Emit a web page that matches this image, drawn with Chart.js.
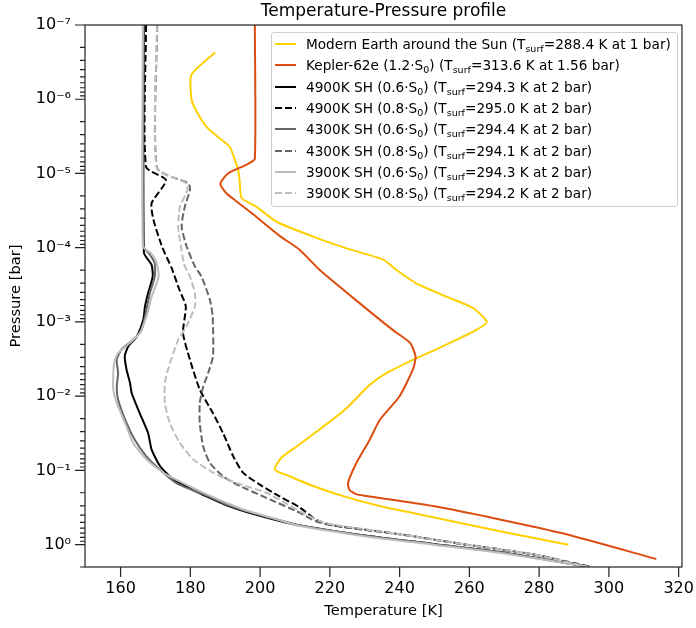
<!DOCTYPE html>
<html>
<head>
<meta charset="utf-8">
<title>Temperature-Pressure profile</title>
<script src="https://cdn.jsdelivr.net/npm/chart.js@4.4.1/dist/chart.umd.min.js"></script>
<style>
  body { margin: 0; background: #fff; }
  #wrap { position: relative; width: 696px; height: 628px; }
  #legend {
    position: absolute; left: 271px; top: 32px; width: 405px; height: 172px;
    border: 1px solid #cfcfcf; border-radius: 3px; background: rgba(255,255,255,0.8);
    font-family: 'DejaVu Sans', sans-serif; font-size: 13.65px; color: #000;
    padding-top: 0.5px; box-sizing: content-box;
  }
  .row { display: flex; align-items: center; height: 21.3px; white-space: nowrap; }
  .row svg { margin-left: 3px; margin-right: 10px; flex: none; }
  .row sub { font-size: 70%; vertical-align: -3px; line-height: 0; }
</style>
</head>
<body>
<div id="wrap">
  <canvas id="tpChart" width="696" height="628"></canvas>
  <div id="legend"></div>
</div>
<script>
// Axis ticks
const xTicks = [160, 180, 200, 220, 240, 260, 280, 300, 320];
const yExponents = [-7, -6, -5, -4, -3, -2, -1, 0];

// Modern Earth around the Sun
const earthT = [187.1, 180.3, 180.3, 181.3, 184.6, 188.5, 191.3, 192.8, 193.7, 194.2, 194.7, 199.0, 204.7, 215.2, 224.8, 235.3, 239.1, 244.8, 253.4, 261.0, 265.0, 261.5, 250.5, 243.8, 236.2, 231.4, 224.8, 218.1, 210.4, 206.1, 204.2, 208.5, 215.2, 224.8, 234.3, 249.6, 268.7, 288.4];
const earthP = [2.34e-7, 4.68e-7, 9.8e-7, 1.32e-6, 2.34e-6, 3.39e-6, 4.37e-6, 6.61e-6, 8.91e-6, 1.35e-5, 2.14e-5, 2.82e-5, 4.47e-5, 7.08e-5, 1.02e-4, 1.45e-4, 2.0e-4, 3.02e-4, 4.57e-4, 6.46e-4, 1.0e-3, 1.32e-3, 2.34e-3, 3.24e-3, 4.9e-3, 7.08e-3, 0.0145, 0.0257, 0.0479, 0.0676, 0.0977, 0.120, 0.162, 0.229, 0.302, 0.427, 0.661, 1.0];

// Kepler-62e
const keplerT = [198.5, 198.5, 196.6, 191.5, 189.9, 188.6, 190.4, 192.8, 198.0, 205.6, 211.4, 217.1, 228.6, 238.1, 243.0, 244.6, 243.8, 240.0, 234.3, 231.4, 227.6, 225.2, 225.6, 227.5, 230.5, 249.6, 268.7, 287.8, 313.6];
const keplerP = [1e-7, 6.31e-6, 7.41e-6, 9.55e-6, 1.1e-5, 1.38e-5, 1.86e-5, 2.29e-5, 3.55e-5, 6.92e-5, 1.07e-4, 2.0e-4, 5.62e-4, 1.29e-3, 1.91e-3, 2.95e-3, 4.37e-3, 0.01, 0.0209, 0.0389, 0.0794, 0.148, 0.182, 0.209, 0.221, 0.302, 0.457, 0.724, 1.56];

// 4900K SH, 0.6 S0
const k4900aT = [166.7, 166.7, 168.9, 169.2, 167.9, 167.0, 166.5, 164.6, 162.2, 161.2, 161.7, 162.7, 163.2, 165.5, 167.9, 168.9, 171.3, 175.1, 179.9, 184.6, 190.4, 196.1, 205.6, 211.4, 230.5, 249.6, 268.7, 294.3];
const k4900aP = [1e-7, 1.17e-4, 1.70e-4, 2.45e-4, 4.07e-4, 6.17e-4, 9.33e-4, 1.58e-3, 2.14e-3, 2.88e-3, 4.37e-3, 6.61e-3, 9.12e-3, 0.017, 0.0316, 0.0525, 0.0871, 0.132, 0.174, 0.224, 0.295, 0.363, 0.479, 0.550, 0.759, 0.977, 1.26, 2.0];

// 4900K SH, 0.8 S0
const k4900bT = [167.3, 167.3, 173.0, 168.9, 169.4, 172.0, 174.6, 176.9, 178.7, 177.9, 179.9, 182.7, 186.5, 189.4, 192.3, 195.1, 199.9, 205.6, 211.4, 216.2, 220.9, 240.0, 259.1, 278.2, 295.0];
const k4900bP = [1e-7, 8.13e-6, 1.23e-5, 2.51e-5, 4.17e-5, 1.0e-4, 1.86e-4, 3.72e-4, 6.17e-4, 1.41e-3, 3.24e-3, 8.13e-3, 0.017, 0.0316, 0.0646, 0.107, 0.155, 0.224, 0.316, 0.468, 0.550, 0.724, 1.0, 1.35, 2.0];

// 4300K SH, 0.6 S0
const k4300aT = [166.6, 166.6, 168.5, 169.8, 169.8, 168.4, 167.4, 166.0, 163.6, 160.3, 158.9, 159.3, 158.9, 159.3, 161.7, 164.1, 167.4, 171.3, 176.0, 184.6, 190.4, 196.1, 205.6, 211.4, 230.5, 249.6, 268.7, 294.4];
const k4300aP = [1e-7, 9.55e-5, 1.26e-4, 1.62e-4, 2.45e-4, 4.07e-4, 6.92e-4, 1.29e-3, 1.74e-3, 2.34e-3, 3.24e-3, 4.9e-3, 7.41e-3, 0.0112, 0.0229, 0.0389, 0.0646, 0.0977, 0.148, 0.219, 0.288, 0.355, 0.468, 0.550, 0.759, 0.977, 1.26, 2.0];

// 4300K SH, 0.8 S0
const k4300bT = [170.5, 170.5, 179.4, 179.9, 178.4, 177.5, 178.9, 181.3, 183.2, 185.6, 186.4, 186.5, 185.1, 183.7, 182.7, 182.7, 183.7, 185.6, 189.4, 194.2, 201.8, 211.4, 216.2, 220.9, 240.0, 259.1, 278.2, 294.1];
const k4300bP = [1e-7, 8.51e-6, 1.35e-5, 1.66e-5, 2.82e-5, 5.13e-5, 9.55e-5, 1.78e-4, 2.45e-4, 5.01e-4, 8.51e-4, 2.88e-3, 4.9e-3, 7.41e-3, 0.0123, 0.0229, 0.0479, 0.0794, 0.120, 0.162, 0.234, 0.372, 0.490, 0.550, 0.724, 1.0, 1.35, 2.0];

// 3900K SH, 0.6 S0
const k3900aT = [166.4, 166.4, 168.8, 170.3, 170.9, 168.9, 167.6, 165.5, 162.7, 159.3, 158.2, 157.9, 157.9, 158.9, 161.7, 163.6, 167.4, 172.2, 177.5, 184.6, 190.4, 196.1, 205.6, 211.4, 230.5, 249.6, 268.7, 294.3];
const k3900aP = [1e-7, 9.55e-5, 1.2e-4, 1.58e-4, 2.45e-4, 4.57e-4, 7.94e-4, 1.41e-3, 1.91e-3, 2.63e-3, 3.55e-3, 5.01e-3, 8.13e-3, 0.0123, 0.0257, 0.0427, 0.0708, 0.107, 0.145, 0.209, 0.275, 0.347, 0.468, 0.562, 0.776, 1.0, 1.29, 2.0];

// 3900K SH, 0.8 S0
const k3900bT = [170.4, 170.4, 178.5, 179.2, 177.0, 176.5, 177.3, 178.2, 179.9, 181.3, 181.3, 178.9, 176.5, 173.6, 172.7, 172.7, 174.1, 177.0, 180.8, 186.5, 193.2, 201.8, 211.4, 217.0, 220.9, 240.0, 259.1, 278.2, 294.2];
const k3900bP = [1e-7, 8.51e-6, 1.32e-5, 1.66e-5, 2.82e-5, 5.13e-5, 9.55e-5, 1.66e-4, 2.45e-4, 4.07e-4, 6.17e-4, 1.15e-3, 1.74e-3, 4.37e-3, 6.61e-3, 0.0123, 0.0229, 0.0427, 0.0708, 0.107, 0.148, 0.20, 0.355, 0.479, 0.537, 0.724, 1.0, 1.35, 2.0];

// Legend text
const seriesNames = ['Modern Earth around the Sun', 'Kepler-62e (1.2·S<sub>0</sub>)', '4900K SH (0.6·S<sub>0</sub>)', '4900K SH (0.8·S<sub>0</sub>)', '4300K SH (0.6·S<sub>0</sub>)', '4300K SH (0.8·S<sub>0</sub>)', '3900K SH (0.6·S<sub>0</sub>)', '3900K SH (0.8·S<sub>0</sub>)'];
const surfTemps = ['288.4', '313.6', '294.3', '295.0', '294.4', '294.1', '294.3', '294.2'];
const surfPress = ['1', '1.56', '2', '2', '2', '2', '2', '2'];

const series = [
  { T: earthT,  P: earthP,  color: '#FFD000', dashed: false },
  { T: keplerT, P: keplerP, color: '#DD4D10', dashed: false },
  { T: k4900aT, P: k4900aP, color: '#000000', dashed: false },
  { T: k4900bT, P: k4900bP, color: '#000000', dashed: true },
  { T: k4300aT, P: k4300aP, color: '#666666', dashed: false },
  { T: k4300bT, P: k4300bP, color: '#666666', dashed: true },
  { T: k3900aT, P: k3900aP, color: '#bdbdbd', dashed: false },
  { T: k3900bT, P: k3900bP, color: '#bdbdbd', dashed: true }
];

const SUP = { '-': '⁻', '0': '⁰', '1': '¹', '2': '²', '3': '³', '4': '⁴', '5': '⁵', '6': '⁶', '7': '⁷', '8': '⁸', '9': '⁹' };
function powerLabel(exp) {
  return '10' + String(exp).split('').map(c => SUP[c]).join('');
}

// Frame and tick marks (major long, minor short)
const axesFrame = {
  id: 'axesFrame',
  afterDraw(chart) {
    const { ctx, chartArea: a, scales } = chart;
    ctx.save();
    ctx.strokeStyle = '#222';
    ctx.lineWidth = 1.2;
    ctx.strokeRect(a.left, a.top, a.right - a.left, a.bottom - a.top);
    ctx.beginPath();
    scales.x.ticks.forEach(t => {
      const px = scales.x.getPixelForValue(t.value);
      ctx.moveTo(px, a.bottom);
      ctx.lineTo(px, a.bottom + 10);
    });
    scales.y.ticks.forEach(t => {
      const py = scales.y.getPixelForValue(t.value);
      const len = t.major ? 10 : 5;
      ctx.moveTo(a.left - len, py);
      ctx.lineTo(a.left, py);
    });
    ctx.stroke();
    ctx.restore();
  }
};

const datasets = series.map((s, i) => ({
  label: seriesNames[i].replace(/<\/?sub>/g, ''),
  data: s.T.map((t, k) => ({ x: t, y: s.P[k] })),
  borderColor: s.color,
  borderWidth: 2,
  borderDash: s.dashed ? [7, 3] : [],
  pointRadius: 0,
  fill: false,
  tension: 0.2,
  order: series.length - i
}));

const font = { family: "'DejaVu Sans', sans-serif" };

new Chart(document.getElementById('tpChart'), {
  type: 'line',
  data: { datasets },
  options: {
    responsive: false,
    animation: false,
    layout: { padding: { left: 0, right: 14, top: 0, bottom: 0 } },
    plugins: {
      legend: { display: false },
      tooltip: { enabled: false },
      title: {
        display: true,
        text: 'Temperature-Pressure profile',
        fullSize: false,
        color: '#000',
        font: { ...font, size: 17, weight: 'normal' },
        padding: { top: 1.5, bottom: 3.1 }
      }
    },
    scales: {
      x: {
        type: 'linear',
        bounds: 'data',
        suggestedMin: 149.8,
        suggestedMax: 320.95,
        grid: { display: false, drawTicks: true, tickLength: 10 },
        border: { display: false },
        afterBuildTicks: axis => { axis.ticks = xTicks.map(v => ({ value: v, major: true })); },
        afterFit: axis => { axis.height = 61; },
        ticks: { color: '#000', font: { ...font, size: 16 }, padding: 2, autoSkip: false, maxRotation: 0 },
        title: { display: true, text: 'Temperature [K]', color: '#000', font: { ...font, size: 14.67 }, padding: { top: 0, bottom: 8 } }
      },
      y: {
        type: 'logarithmic',
        reverse: true,
        bounds: 'data',
        min: 1e-7,
        max: 2,
        grid: { display: false, drawTicks: true, tickLength: 10 },
        border: { display: false },
        afterBuildTicks: axis => {
          const t = [];
          yExponents.forEach(e => {
            for (let m = 1; m <= 9; m++) {
              const v = m * Math.pow(10, e);
              if (v <= 2.0001) t.push({ value: v, major: m === 1 });
            }
          });
          axis.ticks = t;
        },
        afterFit: axis => { axis.width = 85; },
        ticks: {
          color: '#000', font: { ...font, size: 16 }, padding: 4, autoSkip: false,
          callback: (value, index, ticks) => ticks[index].major ? powerLabel(Math.round(Math.log10(value))) : ''
        },
        title: { display: true, text: 'Pressure [bar]', color: '#000', font: { ...font, size: 14.67 }, padding: { top: 7, bottom: 0 } }
      }
    }
  },
  plugins: [axesFrame]
});

// HTML legend so the subscripts stay real text
const legend = document.getElementById('legend');
series.forEach((s, i) => {
  const row = document.createElement('div');
  row.className = 'row';
  row.innerHTML = `
    <svg width="21" height="10"><line x1="0" y1="5" x2="21" y2="5" stroke="${s.color}" stroke-width="2" ${s.dashed ? 'stroke-dasharray="7,3"' : ''}/></svg>
    <span>${seriesNames[i]} (T<sub>surf</sub>=${surfTemps[i]} K at ${surfPress[i]} bar)</span>`;
  legend.appendChild(row);
});
</script>
</body>
</html>
